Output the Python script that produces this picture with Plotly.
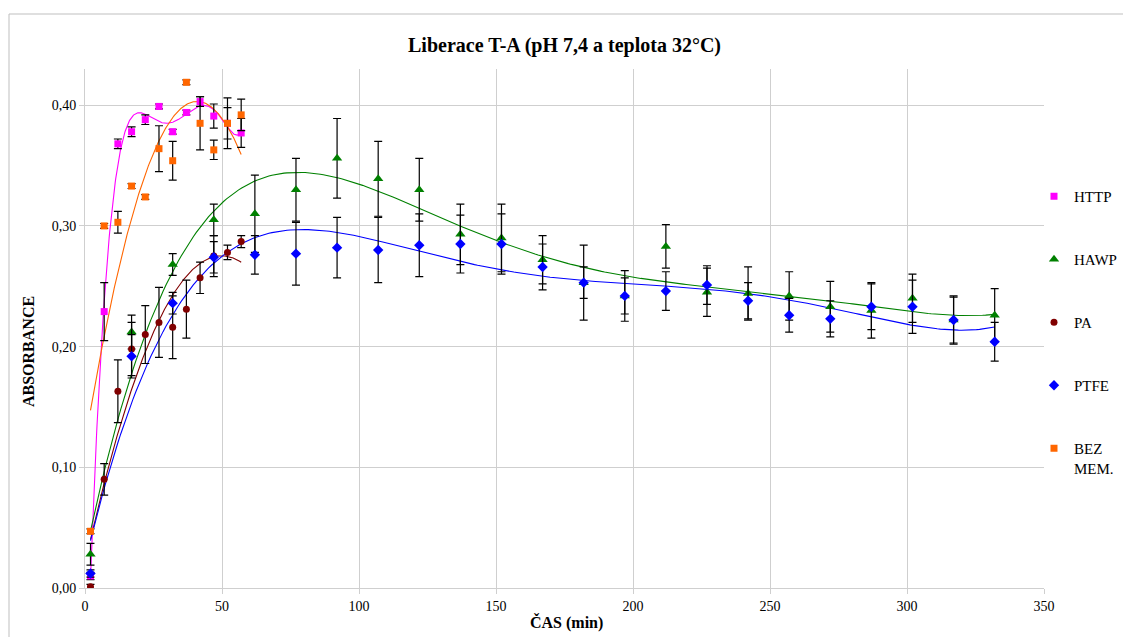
import numpy as np
import plotly.graph_objects as go

# Sampling times (min)
t_short = [2, 7, 12, 17, 22, 27, 32, 37, 42, 47, 52, 57]
t_long = [2, 17, 32, 47, 62, 77, 92, 107, 122, 137, 152, 167, 182, 197,
          212, 227, 242, 257, 272, 287, 302, 317, 332]

# Absorbance values and standard deviations per membrane
http_y = [0.010, 0.229, 0.368, 0.378, 0.388, 0.399, 0.378, 0.394, 0.403, 0.391, 0.385, 0.377]
http_e = [0.003, 0.024, 0.004, 0.004, 0.004, 0.002, 0.002, 0.002, 0.004, 0.010, 0.013, 0.012]

bez_y = [0.047, 0.300, 0.303, 0.333, 0.324, 0.364, 0.354, 0.419, 0.385, 0.363, 0.385, 0.392]
bez_e = [0.002, 0.002, 0.009, 0.002, 0.002, 0.019, 0.016, 0.002, 0.022, 0.008, 0.021, 0.013]

pa_y = [0.001, 0.090, 0.163, 0.198, 0.210, 0.220, 0.216, 0.231, 0.257, 0.275, 0.278, 0.287]
pa_e = [0.002, 0.013, 0.026, 0.022, 0.024, 0.029, 0.026, 0.024, 0.013, 0.017, 0.006, 0.005]

hawp_y = [0.028, 0.212, 0.268, 0.305, 0.310, 0.330, 0.356, 0.339, 0.330, 0.293, 0.290, 0.272,
          0.253, 0.242, 0.283, 0.245, 0.244, 0.242, 0.233, 0.230, 0.240, 0.222, 0.226]
hawp_e = [0.009, 0.014, 0.009, 0.013, 0.032, 0.026, 0.033, 0.031, 0.026, 0.025, 0.028, 0.020,
          0.013, 0.015, 0.018, 0.020, 0.022, 0.020, 0.021, 0.023, 0.020, 0.020, 0.022]

ptfe_y = [0.012, 0.192, 0.236, 0.274, 0.276, 0.277, 0.282, 0.280, 0.284, 0.285, 0.285, 0.266,
          0.253, 0.242, 0.246, 0.251, 0.238, 0.226, 0.223, 0.233, 0.233, 0.222, 0.204]
ptfe_e = [0.003, 0.018, 0.009, 0.013, 0.016, 0.026, 0.025, 0.027, 0.026, 0.024, 0.025, 0.019,
          0.031, 0.021, 0.016, 0.016, 0.015, 0.014, 0.015, 0.019, 0.022, 0.019, 0.016]

series = [
    # name, x, y, err, color, symbol, marker size, trendline order
    ("HTTP", t_short, http_y, http_e, "#FF00FF", "square", 7, 6),
    ("HAWP", t_long, hawp_y, hawp_e, "#008000", "triangle-up", 9, 5),
    ("PA", t_short, pa_y, pa_e, "#800000", "circle", 7, 2),
    ("PTFE", t_long, ptfe_y, ptfe_e, "#0000FF", "diamond", 8, 5),
    ("BEZ<br>MEM.", t_short, bez_y, bez_e, "#FF6600", "square", 7, 2),
]

FONT = "Liberation Serif"

fig = go.Figure()

# Polynomial trendlines (least squares)
for name, x, y, e, color, sym, size, order in series:
    p = np.polynomial.Polynomial.fit(x, y, order)
    xs = np.linspace(min(x), max(x), 300)
    fig.add_trace(go.Scatter(
        x=xs, y=p(xs), mode="lines",
        line=dict(color=color, width=1.1),
        showlegend=False, hoverinfo="skip",
    ))

# Measured points with error bars
for i, (name, x, y, e, color, sym, size, order) in enumerate(series):
    fig.add_trace(go.Scatter(
        x=x, y=y, mode="markers", name=name, legendgroup=f"g{i}",
        marker=dict(color=color, symbol=sym, size=size, line=dict(width=0)),
        error_y=dict(type="data", array=e, visible=True,
                     color="black", thickness=1.2, width=4),
    ))

fig.update_layout(
    width=1123, height=637,
    margin=dict(l=85, r=79, t=69, b=49, autoexpand=False),
    paper_bgcolor="white", plot_bgcolor="white",
    separators=",.",
    font=dict(family=FONT, size=14, color="black"),
    title=dict(text="<b>Liberace T-A (pH 7,4 a teplota 32°C)</b>",
               x=0.5, xref="paper", xanchor="center",
               y=1 - 45 / 637, yanchor="middle",
               font=dict(family=FONT, size=20, color="black")),
    xaxis=dict(range=[0, 350], dtick=50, tick0=0,
               showgrid=True, gridcolor="#CFCFCF", gridwidth=1,
               showline=True, linecolor="#CFCFCF", linewidth=1,
               zeroline=False, ticks="outside", ticklen=5, tickcolor="#CFCFCF",
               tickfont=dict(family=FONT, size=14)),
    yaxis=dict(range=[0, 0.43], dtick=0.1, tick0=0, tickformat=".2f",
               showgrid=True, gridcolor="#CFCFCF", gridwidth=1,
               showline=True, linecolor="#CFCFCF", linewidth=1,
               zeroline=False, ticks="outside", ticklen=5, tickcolor="#CFCFCF",
               tickfont=dict(family=FONT, size=14)),
    legend=dict(x=(1034 - 85) / 959, xanchor="left",
                y=(588 - 180) / 519, yanchor="top",
                bgcolor="rgba(0,0,0,0)", borderwidth=0,
                tracegroupgap=40.5, valign="top",
                font=dict(family=FONT, size=15, color="black")),
    showlegend=True,
    annotations=[
        dict(text="<b>ČAS (min)</b>", xref="paper", yref="paper",
             x=(566 - 85) / 959, y=(588 - 622) / 519,
             xanchor="center", yanchor="middle", showarrow=False,
             font=dict(family=FONT, size=16, color="black")),
        dict(text="<b>ABSORBANCE</b>", xref="paper", yref="paper",
             x=(28 - 85) / 959, y=(588 - 352) / 519, textangle=-90,
             xanchor="center", yanchor="middle", showarrow=False,
             font=dict(family=FONT, size=16, color="black")),
    ],
    shapes=[
        dict(type="rect", xref="paper", yref="paper",
             x0=(9 - 85) / 959, x1=(1140 - 85) / 959,
             y0=(588 - 660) / 519, y1=(588 - 14) / 519,
             line=dict(color="#BFBFBF", width=1), layer="below"),
    ],
)

fig.write_html("out.html")
